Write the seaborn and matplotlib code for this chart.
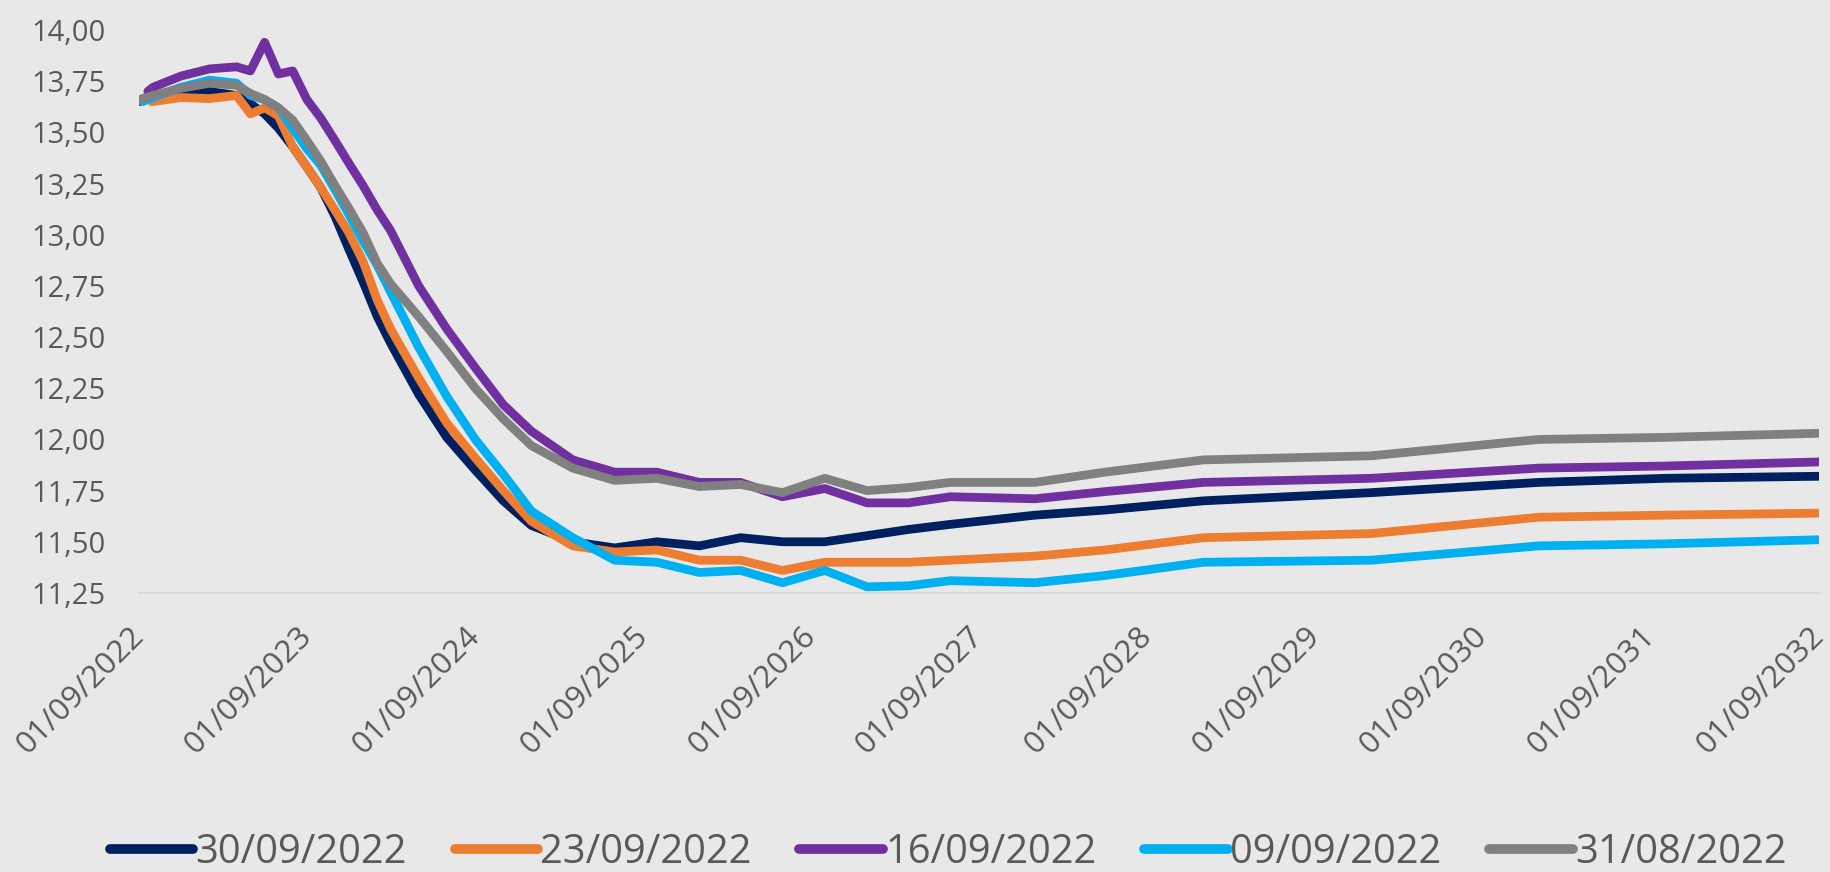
import matplotlib
matplotlib.use("Agg")
import matplotlib.pyplot as plt
import matplotlib.dates as mdates
from matplotlib.ticker import FuncFormatter, FixedLocator
import seaborn as sns
import pandas as pd

dates = ["2022-09-01", "2022-10-01", "2022-12-01", "2023-02-01", "2023-04-01", "2023-05-01",
         "2023-06-01", "2023-07-01", "2023-08-01", "2023-09-01", "2023-10-01", "2023-11-01",
         "2023-12-01", "2024-01-01", "2024-02-01", "2024-03-01", "2024-05-01", "2024-07-01",
         "2024-09-01", "2024-11-01", "2025-01-01", "2025-04-01", "2025-07-01", "2025-10-01",
         "2026-01-01", "2026-04-01", "2026-07-01", "2026-10-01", "2027-01-01", "2027-04-01",
         "2027-07-01", "2028-01-01", "2028-06-01", "2029-01-01", "2030-01-01", "2031-01-01",
         "2031-10-01", "2032-09-01"]

# first point of each curve starts at its own date
start_dates = ["2022-09-01", "2022-09-28", "2022-09-20", "2022-09-08", "2022-09-01"]

s_30_09 = [13.65, 13.67, 13.69, 13.70, 13.68, 13.64, 13.59, 13.52, 13.43, 13.33, 13.23, 13.09,
           12.93, 12.77, 12.60, 12.47, 12.22, 12.01, 11.85, 11.70, 11.58, 11.50, 11.47, 11.50,
           11.48, 11.52, 11.50, 11.50, 11.53, 11.56, 11.585, 11.63, 11.655, 11.70, 11.74, 11.79,
           11.81, 11.82]
s_23_09 = [13.65, 13.65, 13.67, 13.665, 13.68, 13.59, 13.62, 13.58, 13.43, 13.33, 13.23, 13.12,
           13.01, 12.87, 12.68, 12.54, 12.30, 12.08, 11.91, 11.75, 11.60, 11.48, 11.45, 11.46,
           11.41, 11.41, 11.36, 11.40, 11.40, 11.40, 11.41, 11.43, 11.46, 11.52, 11.54, 11.62,
           11.63, 11.64]
s_16_09 = [13.70, 13.72, 13.775, 13.81, 13.82, 13.80, 13.94, 13.785, 13.80, 13.66, 13.57, 13.46,
           13.35, 13.24, 13.12, 13.02, 12.75, 12.54, 12.35, 12.17, 12.04, 11.90, 11.84, 11.84,
           11.79, 11.79, 11.72, 11.76, 11.69, 11.69, 11.72, 11.71, 11.745, 11.79, 11.81, 11.86,
           11.87, 11.89]
s_09_09 = [13.65, 13.67, 13.72, 13.755, 13.74, 13.68, 13.66, 13.62, 13.52, 13.42, 13.34, 13.22,
           13.10, 12.97, 12.85, 12.72, 12.45, 12.21, 12.00, 11.83, 11.65, 11.52, 11.41, 11.40,
           11.35, 11.36, 11.30, 11.36, 11.28, 11.285, 11.31, 11.30, 11.335, 11.40, 11.41, 11.48,
           11.49, 11.51]
s_31_08 = [13.66, 13.68, 13.715, 13.74, 13.73, 13.69, 13.66, 13.62, 13.56, 13.46, 13.36, 13.24,
           13.13, 13.01, 12.86, 12.76, 12.60, 12.43, 12.25, 12.10, 11.97, 11.86, 11.80, 11.81,
           11.77, 11.78, 11.74, 11.81, 11.75, 11.765, 11.79, 11.79, 11.84, 11.90, 11.92, 12.00,
           12.01, 12.03]

series_names = ["30/09/2022", "23/09/2022", "16/09/2022", "09/09/2022", "31/08/2022"]
series_values = [s_30_09, s_23_09, s_16_09, s_09_09, s_31_08]
colors = ["#002060", "#ED7D31", "#7030A0", "#00B0F0", "#808080"]

tick_dates = ["2022-09-01", "2023-09-01", "2024-09-01", "2025-09-01", "2026-09-01",
              "2027-09-01", "2028-09-01", "2029-09-01", "2030-09-01", "2031-09-01", "2032-09-01"]
y_ticks = [11.25, 11.50, 11.75, 12.00, 12.25, 12.50, 12.75, 13.00, 13.25, 13.50, 13.75, 14.00]

frames = []
for name, start, vals in zip(series_names, start_dates, series_values):
    d = [start] + dates[1:]
    frames.append(pd.DataFrame({"date": pd.to_datetime(d), "value": vals, "series": name}))
df = pd.concat(frames, ignore_index=True)

sns.set_theme(style="white")
plt.rcParams["font.family"] = ["Open Sans", "DejaVu Sans"]
bg = "#e8e8e8"
txt = "#595959"

fig = plt.figure(figsize=(18.3, 8.72), dpi=100, facecolor=bg)
ax = fig.add_axes([0.076, 0.320, 0.918, 0.6456])
ax.set_facecolor(bg)

sns.lineplot(data=df, x="date", y="value", hue="series", hue_order=series_names,
             palette=colors, linewidth=6.3, ax=ax, sort=True)
for ln in ax.lines:
    ln.set_solid_capstyle("round")
    ln.set_solid_joinstyle("round")

handles, labels = ax.get_legend_handles_labels()
if ax.get_legend() is not None:
    ax.get_legend().remove()

ax.set_xlim(pd.Timestamp("2022-09-01"), pd.Timestamp("2032-09-01"))
ax.set_ylim(11.25, 14.0)
ax.xaxis.set_major_locator(FixedLocator(mdates.date2num(pd.to_datetime(tick_dates))))
ax.xaxis.set_major_formatter(mdates.DateFormatter("%d/%m/%Y"))
ax.yaxis.set_major_locator(FixedLocator(y_ticks))
ax.yaxis.set_major_formatter(FuncFormatter(lambda v, p: f"{v:.2f}".replace(".", ",")))
ax.set_xlabel("")
ax.set_ylabel("")

for sp in ["top", "right", "left"]:
    ax.spines[sp].set_visible(False)
ax.spines["bottom"].set_color("#d9d9d9")
ax.spines["bottom"].set_linewidth(1.5)

ax.tick_params(axis="y", length=0, pad=24, labelsize=21, labelcolor=txt)
ax.tick_params(axis="x", length=7, width=1.5, color="#d9d9d9", pad=21, labelsize=22.5, labelcolor=txt)
for lab in ax.get_xticklabels():
    lab.set_rotation(45)
    lab.set_ha("right")
    lab.set_va("center")
    lab.set_rotation_mode("anchor")

for h in handles:
    h.set_linewidth(7)
    h.set_solid_capstyle("round")
leg = fig.legend(handles, labels, loc="center", bbox_to_anchor=(0.518, 0.022), ncol=5,
                 frameon=False, fontsize=28.7, handlelength=2.1, handletextpad=0.05,
                 columnspacing=1.2, labelcolor=txt, borderpad=0.1)

fig.savefig("out.png", dpi=100, facecolor=bg)
